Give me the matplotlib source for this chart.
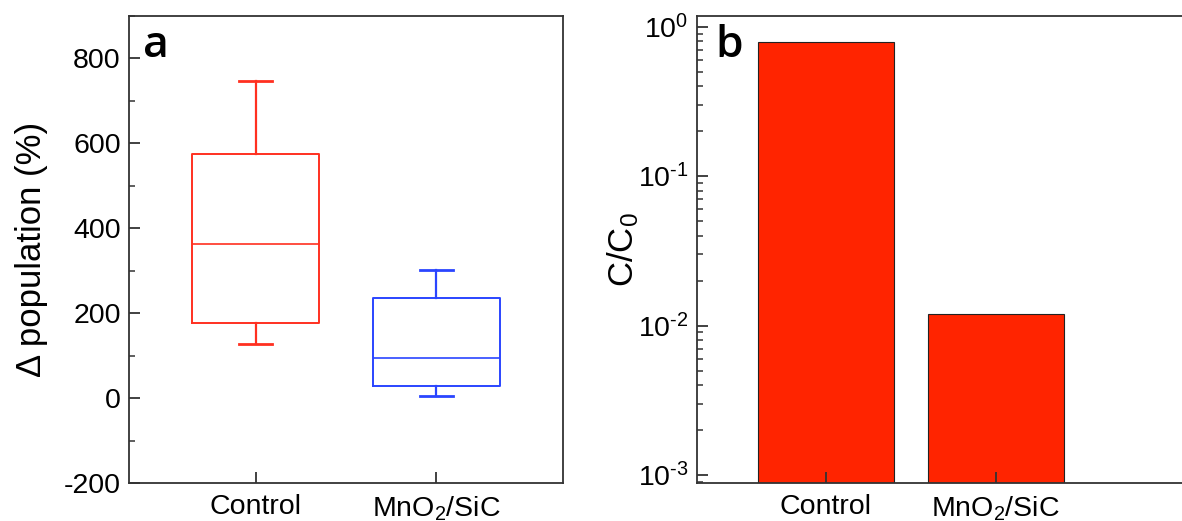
import matplotlib
matplotlib.use("Agg")
import matplotlib.pyplot as plt
import numpy as np
from matplotlib.ticker import MultipleLocator, LogLocator, NullFormatter, FuncFormatter

plt.rcParams['font.family'] = ['Liberation Sans', 'DejaVu Sans']
plt.rcParams['mathtext.fontset'] = 'custom'
plt.rcParams['mathtext.rm'] = 'Liberation Sans'
plt.rcParams['mathtext.it'] = 'Liberation Sans'
plt.rcParams['axes.unicode_minus'] = False

# ---- data ----
categories = ['Control', r'MnO$_\mathregular{2}$/SiC']
box_whislo = [127, 5]
box_q1 = [176, 29]
box_med = [362, 94]
box_q3 = [576, 236]
box_whishi = [748, 302]
box_colors = ['#FF3020', '#2A45FF']

bar_values = [0.79, 0.012]
bar_color = '#FF2400'

W, H = 1182, 521
fig = plt.figure(figsize=(W / 100, H / 100), dpi=100)

spine_color = '#333333'

# ---- panel a ----
ax1 = fig.add_axes([129 / W, 1 - 483 / H, 434 / W, 467 / H])
stats = []
for i in range(len(categories)):
    stats.append(dict(label=categories[i], whislo=box_whislo[i], q1=box_q1[i],
                      med=box_med[i], q3=box_q3[i], whishi=box_whishi[i], fliers=[]))
positions = list(range(1, len(categories) + 1))
for i, st in enumerate(stats):
    c = box_colors[i]
    ax1.bxp([st], positions=[positions[i]], widths=0.7, capwidths=0.18, showfliers=False,
            boxprops=dict(color=c, linewidth=1.4),
            medianprops=dict(color=c, linewidth=1.2),
            whiskerprops=dict(color=c, linewidth=1.6),
            capprops=dict(color=c, linewidth=2.0))
ax1.set_xlim(0.3, 2.7)
ax1.set_ylim(-200, 900)
ax1.set_xticks(positions)
ax1.set_xticklabels(categories)
ax1.yaxis.set_major_locator(MultipleLocator(200))
ax1.yaxis.set_minor_locator(MultipleLocator(100))
ax1.set_ylabel('Δ population (%)', fontsize=25, labelpad=11)
ax1.text(0.032, 0.912, 'a', transform=ax1.transAxes, fontsize=32,
         fontfamily='Open Sans', fontweight='semibold', va='baseline', ha='left')

# ---- panel b ----
ax2 = fig.add_axes([697 / W, 1 - 483 / H, 510 / W, 467 / H])
ax2.set_yscale('log')
ax2.bar(positions, bar_values, width=0.8, bottom=1e-5, color=bar_color,
        edgecolor='#222222', linewidth=0.8, zorder=1)
ax2.set_xlim(0.243, 3.243)
ax2.set_ylim(10 ** -3.054, 10 ** 0.072)
ax2.set_xticks(positions)
ax2.set_xticklabels(categories)
ax2.yaxis.set_major_locator(LogLocator(base=10, numticks=10))
ax2.yaxis.set_minor_locator(LogLocator(base=10, subs=range(2, 10), numticks=10))
ax2.yaxis.set_minor_formatter(NullFormatter())


def log_fmt(v, pos):
    n = int(round(np.log10(v)))
    if n < 0:
        return r'$\mathregular{10^{\text{-}%d}}$' % (-n)
    return r'$\mathregular{10^{%d}}$' % n


ax2.yaxis.set_major_formatter(FuncFormatter(log_fmt))
ax2.set_ylabel(r'C/C$_\mathregular{0}$', fontsize=25, labelpad=-2)
ax2.text(0.037, 0.912, 'b', transform=ax2.transAxes, fontsize=32,
         fontfamily='Open Sans', fontweight='semibold', va='baseline', ha='left')

for ax in (ax1, ax2):
    for s in ax.spines.values():
        s.set_color(spine_color)
        s.set_linewidth(1.3)
    ax.tick_params(axis='both', which='major', direction='in', length=8, width=1.3,
                   color=spine_color, labelsize=20.5, pad=6)
    ax.tick_params(axis='both', which='minor', direction='in', length=4.5, width=1.1,
                   color=spine_color)
    ax.tick_params(axis='x', which='minor', bottom=False)
    ax.tick_params(top=False, right=False, which='both')
    ax.set_axisbelow(False)
    for t in ax.get_xticklines() + ax.get_yticklines():
        t.set_zorder(5)

ax1.tick_params(axis='x', pad=8)
ax2.tick_params(axis='x', pad=8)

fig.savefig('out.png', dpi=100)
